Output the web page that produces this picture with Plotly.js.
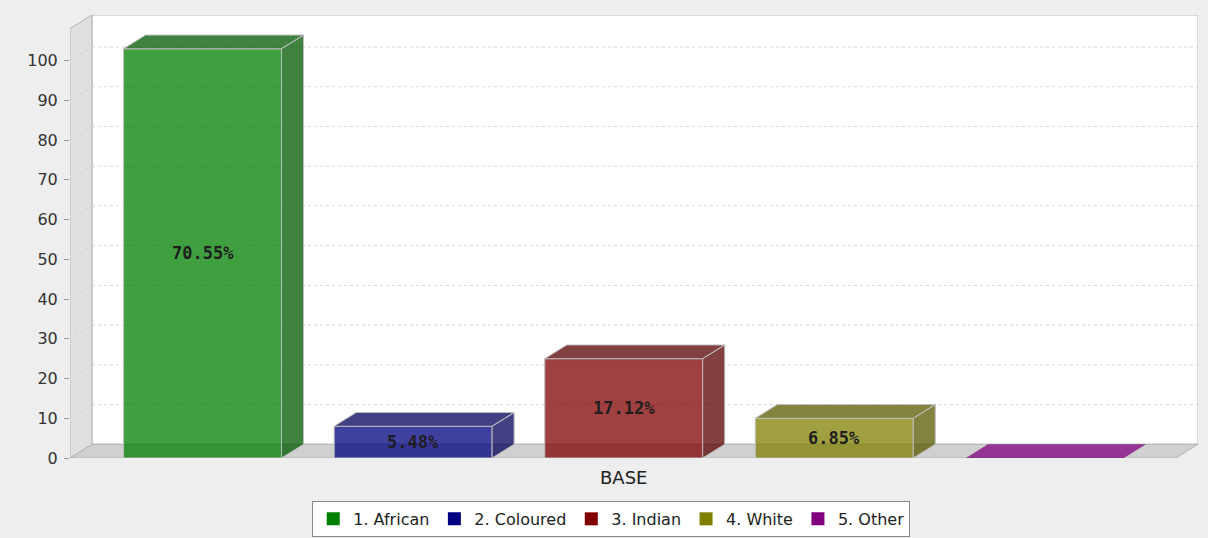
<!DOCTYPE html>
<html>
<head>
<meta charset="utf-8">
<script src="https://cdn.plot.ly/plotly-3.0.1.min.js"></script>
<style>
html,body{margin:0;padding:0;background:#eeeeee;}
#chart{width:1208px;height:538px;}
</style>
</head>
<body>
<div id="chart"></div>
<script>
// ---- data ----
const categories = ['1. African', '2. Coloured', '3. Indian', '4. White', '5. Other'];
const counts = [103, 8, 25, 10, 0];
const baseColors = [[0,128,0],[0,0,128],[128,0,0],[128,128,0],[128,0,128]];
const yTickVals = [0,10,20,30,40,50,60,70,80,90,100];
const xCategoryLabel = 'BASE';

// ---- geometry / style ----
const XMIN = -0.6295, XMAX = 4.727;   // x axis range (index units)
const YMAX = 111.5;
const BW = 0.75;        // bar width
const DX = 0.1045;      // 3D depth in x
const DY = 3.45;        // 3D depth in y
const EDGE = '#bdbdbd';
const ALPHA = 0.75;

function rgba(c, a){ return 'rgba(' + c.join(',') + ',' + a + ')'; }
function darker(c){ return c.map(v => Math.floor(v * 0.7)); }

const total = counts.reduce((a,b)=>a+b,0);
const traces = [];
const annotations = [];

counts.forEach((v, i) => {
  const c = baseColors[i];
  // front face
  traces.push({
    type: 'bar', x: [i], y: [v], width: BW,
    marker: {color: rgba(c, ALPHA), line: {color: EDGE, width: 1}},
    showlegend: false, hoverinfo: 'skip'
  });
  // top + side faces
  const l = i - BW/2, r = i + BW/2;
  const fx = [l, l+DX, r+DX, r, l, null, r, r+DX, r+DX, r, r];
  const fy = [v, v+DY, v+DY, v, v, null, 0, DY, v+DY, v, 0];
  traces.push({
    type: 'scatter', mode: 'lines', x: fx, y: fy, fill: 'toself',
    fillcolor: rgba(v === 0 ? c : darker(c), ALPHA),
    line: {color: v === 0 ? 'rgba(0,0,0,0)' : EDGE, width: 1},
    showlegend: false, hoverinfo: 'skip'
  });
  if (v > 0) {
    annotations.push({
      x: i, y: v/2, xref: 'x', yref: 'y', showarrow: false,
      text: (v/total*100).toFixed(2) + '%',
      font: {family: 'DejaVu Sans Mono', size: 17, color: '#1e1e1e', weight: 'bold'}
    });
  }
});

// legend entries (solid swatches)
categories.forEach((name, i) => {
  traces.push({
    type: 'scatter', mode: 'markers', x: [null], y: [null], name: name,
    marker: {symbol: 'square', size: 13, color: rgba(baseColors[i], 1)},
    showlegend: true, hoverinfo: 'skip'
  });
});

// walls, floor, grid
const shapes = [];
shapes.push({type:'rect', xref:'x', yref:'y', x0: XMIN+DX, x1: XMAX, y0: DY, y1: YMAX,
  fillcolor:'#ffffff', line:{color:'#b4b4b4', width:1}, layer:'below'});
shapes.push({type:'path', xref:'x', yref:'y',
  path: `M${XMIN},0 L${XMIN},${YMAX-DY} L${XMIN+DX},${YMAX} L${XMIN+DX},${DY} Z`,
  fillcolor:'#e0e0e0', line:{color:'#b4b4b4', width:1}, layer:'below'});
shapes.push({type:'path', xref:'x', yref:'y',
  path: `M${XMIN},0 L${XMIN+DX},${DY} L${XMAX},${DY} L${XMAX-DX},0 Z`,
  fillcolor:'#d0d0d0', line:{color:'#b4b4b4', width:1}, layer:'below'});
yTickVals.forEach(t => {
  if (t === 0) return;
  shapes.push({type:'line', xref:'x', yref:'y', x0: XMIN+DX, x1: XMAX, y0: t+DY, y1: t+DY,
    line:{color:'#d6d6d6', width:1, dash:'3px,3px'}, layer:'below'});
  shapes.push({type:'line', xref:'x', yref:'y', x0: XMIN, x1: XMIN+DX, y0: t, y1: t+DY,
    line:{color:'#d2d2d2', width:1, dash:'3px,3px'}, layer:'below'});
});

const layout = {
  width: 1208, height: 538,
  paper_bgcolor: '#eeeeee', plot_bgcolor: 'rgba(0,0,0,0)',
  margin: {l: 70, r: 10, t: 15, b: 80, autoexpand: false},
  barmode: 'overlay',
  font: {family: 'DejaVu Sans', color: '#333333'},
  xaxis: {
    range: [XMIN, XMAX], showgrid: false, zeroline: false, showline: false,
    tickvals: [(categories.length - 1) / 2], ticktext: [xCategoryLabel],
    ticks: '', ticklabelstandoff: 7, tickfont: {size: 18, color: '#222222'}, fixedrange: true
  },
  yaxis: {
    range: [0, YMAX], showgrid: false, zeroline: false, showline: false,
    tickvals: yTickVals, ticks: 'outside', ticklen: 5, tickcolor: '#999999',
    ticklabelstandoff: 3,
    tickfont: {size: 16, color: '#333333'}, fixedrange: true
  },
  shapes: shapes,
  annotations: annotations,
  showlegend: true,
  legend: {
    orientation: 'h', xref: 'container', x: 0.506, xanchor: 'center',
    yref: 'container', y: 0.002, yanchor: 'bottom',
    bgcolor: '#ffffff', bordercolor: '#888888', borderwidth: 1,
    font: {size: 16, color: '#222222'}, itemwidth: 30, tracegroupgap: 0
  },
  hovermode: false
};

Plotly.newPlot('chart', traces, layout, {displayModeBar: false, staticPlot: true});
</script>
</body>
</html>
